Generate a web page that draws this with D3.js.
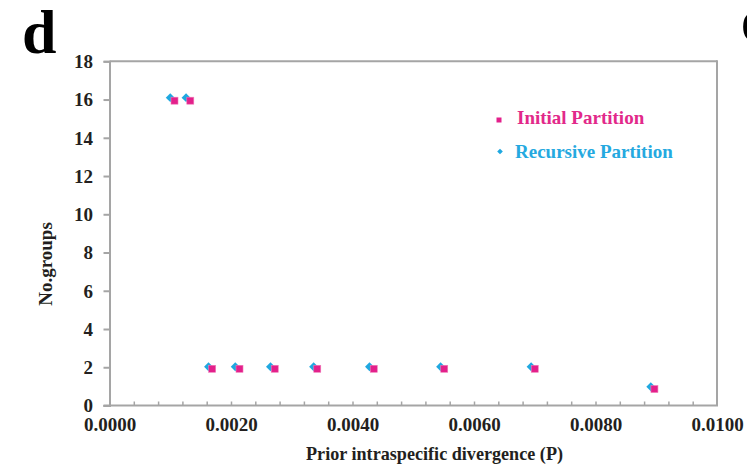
<!DOCTYPE html>
<html>
<head>
<meta charset="utf-8">
<script src="https://cdn.jsdelivr.net/npm/d3@7"></script>
<style>
  html, body { margin: 0; padding: 0; background: #fff; }
  svg { display: block; }
  text { font-family: "Liberation Serif", "Times New Roman", serif; font-weight: bold; }
</style>
</head>
<body>
<svg id="chart" width="747" height="468"></svg>
<script>
// ---- data ----
const initialP   = [0.00107, 0.00133, 0.00169, 0.00214, 0.00272, 0.00342, 0.00435, 0.00551, 0.00700, 0.00897];
const initialN   = [15.94, 15.94, 1.92, 1.92, 1.92, 1.92, 1.92, 1.92, 1.92, 0.86];
const recursiveP = [0.00100, 0.00126, 0.00163, 0.00207, 0.00265, 0.00336, 0.00428, 0.00545, 0.00694, 0.00891];
const recursiveN = [16.10, 16.10, 2.03, 2.03, 2.03, 2.03, 2.03, 2.03, 2.03, 0.98];
const seriesNames = ["Initial Partition", "Recursive Partition"];
const yTicks = [0, 2, 4, 6, 8, 10, 12, 14, 16, 18];
const xLabelTicks = [0, 0.002, 0.004, 0.006, 0.008, 0.010];
const xMinorStep = 0.0004;
const xTitle = "Prior intraspecific divergence (P)";
const yTitle = "No.groups";

// ---- layout ----
const svg = d3.select("#chart");
const L = 109.5, R = 717, T = 61.3, B = 405.5;
const axisColor = "#a5a5a5";
const pink = "#e3208b", blue = "#1fa8e0";

const x = d3.scaleLinear().domain([0, 0.01]).range([L, R]);
const y = d3.scaleLinear().domain([0, 18]).range([B, T]);

// frame (top + right)
svg.append("line").attr("x1", L).attr("x2", R).attr("y1", T).attr("y2", T)
  .attr("stroke", axisColor).attr("stroke-width", 2);
svg.append("line").attr("x1", R).attr("x2", R).attr("y1", T - 1).attr("y2", B)
  .attr("stroke", axisColor).attr("stroke-width", 2);

// Y axis
const yAxis = svg.append("g").attr("transform", `translate(${L},0)`)
  .call(d3.axisLeft(y).tickValues(yTicks).tickSize(6).tickPadding(10).tickFormat(d3.format("d")));
yAxis.select(".domain").attr("stroke", axisColor).attr("stroke-width", 2);
yAxis.selectAll(".tick line").attr("stroke", axisColor).attr("stroke-width", 2);
yAxis.selectAll(".tick text").attr("font-size", 19).attr("fill", "#231f20")
  .attr("font-family", '"Liberation Serif", serif').attr("font-weight", "bold")
  .attr("x", -16.5).attr("dy", "0.33em");

// X axis minor ticks (inward)
const minorTicks = d3.range(0, 25).map(i => i * xMinorStep);
const xAxis = svg.append("g").attr("transform", `translate(0,${B})`)
  .call(d3.axisBottom(x).tickValues(minorTicks).tickSize(-4).tickFormat(""));
xAxis.select(".domain").attr("stroke", axisColor).attr("stroke-width", 2).attr("d", `M${L - 6},0H${R + 1}`);
xAxis.selectAll(".tick line").attr("stroke", axisColor).attr("stroke-width", 1.5);

// X labels
const xLab = svg.append("g").attr("transform", `translate(0,${B})`)
  .call(d3.axisBottom(x).tickValues(xLabelTicks).tickSize(0).tickFormat(d3.format(".4f")));
xLab.select(".domain").remove();
xLab.selectAll(".tick text").attr("font-size", 19).attr("fill", "#231f20")
  .attr("font-family", '"Liberation Serif", serif').attr("font-weight", "bold")
  .attr("y", 25.5).attr("dy", null);

// axis titles
svg.append("text").attr("x", 434.5).attr("y", 460).attr("text-anchor", "middle")
  .attr("font-size", 19).attr("fill", "#231f20")
  .attr("textLength", 257).attr("lengthAdjust", "spacingAndGlyphs").text(xTitle);
svg.append("text").attr("transform", "translate(52,264) rotate(-90)").attr("text-anchor", "middle")
  .attr("font-size", 19).attr("fill", "#231f20").text(yTitle);

// panel letters
svg.append("text").attr("x", 22).attr("y", 53).attr("font-size", 62).attr("fill", "#000").text("d");
svg.append("text").attr("x", 741).attr("y", 41).attr("font-size", 62).attr("fill", "#000").text("e");

// data: recursive (diamonds = rotated squares) under initial (squares)
const diamond = d3.symbol().type(d3.symbolSquare).size(40);
svg.append("g").selectAll("path").data(recursiveP.map((p, i) => [p, recursiveN[i]]))
  .join("path").attr("d", diamond)
  .attr("transform", d => `translate(${x(d[0])},${y(d[1])}) rotate(45)`)
  .attr("fill", blue);

const sq = 7;
svg.append("g").selectAll("rect").data(initialP.map((p, i) => [p, initialN[i]]))
  .join("rect")
  .attr("x", d => x(d[0]) - sq / 2).attr("y", d => y(d[1]) - sq / 2)
  .attr("width", sq).attr("height", sq)
  .attr("fill", pink).attr("stroke", "#f07ab8").attr("stroke-width", 0.6);

// legend
const lg = svg.append("g");
lg.append("rect").attr("x", 496.5).attr("y", 117.5).attr("width", 5).attr("height", 5).attr("fill", pink);
lg.append("text").attr("x", 517).attr("y", 124).attr("font-size", 19).attr("fill", "#e2298a").text(seriesNames[0]);
lg.append("path").attr("d", d3.symbol().type(d3.symbolSquare).size(16))
  .attr("transform", "translate(500,151.5) rotate(45)").attr("fill", blue);
lg.append("text").attr("x", 515).attr("y", 158).attr("font-size", 19).attr("fill", "#25a9e0").text(seriesNames[1]);
</script>
</body>
</html>
